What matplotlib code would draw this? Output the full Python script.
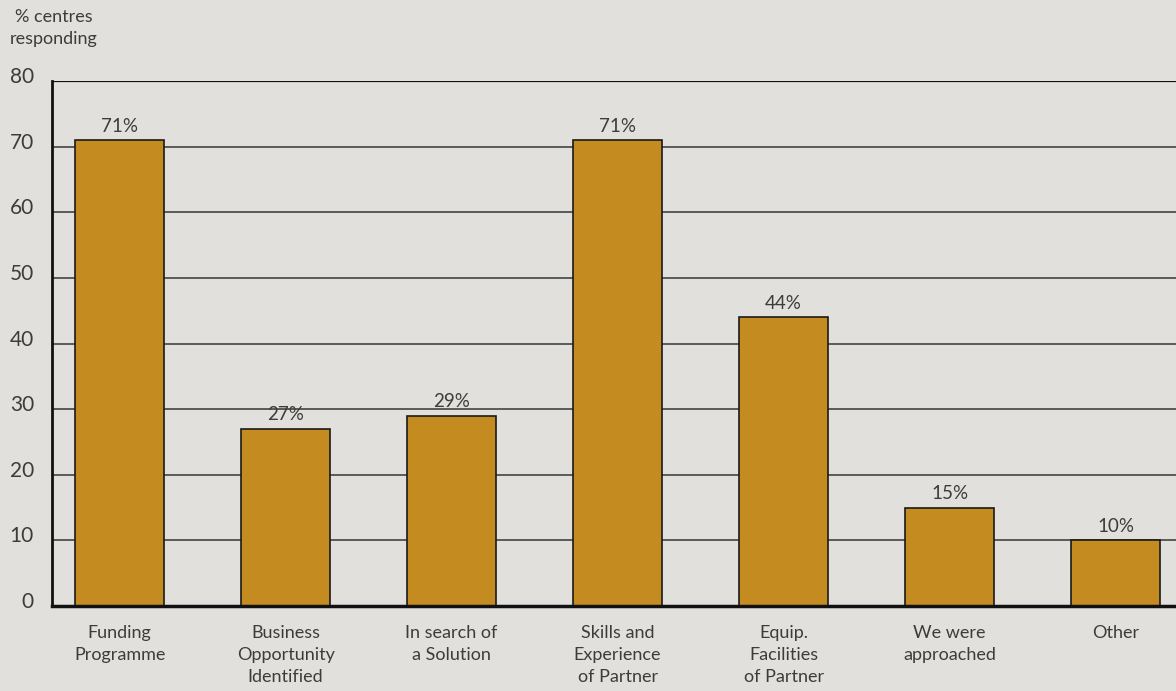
import matplotlib
matplotlib.use("Agg")
import matplotlib.pyplot as plt
import matplotlib.transforms as mtransforms
import numpy as np

categories = [
    "Funding\nProgramme",
    "Business\nOpportunity\nIdentified",
    "In search of\na Solution",
    "Skills and\nExperience\nof Partner",
    "Equip.\nFacilities\nof Partner",
    "We were\napproached",
    "Other",
]
percent = [71, 27, 29, 71, 44, 15, 10]
yticks = [0, 10, 20, 30, 40, 50, 60, 70, 80]

bg = "#e1e0dc"
bar_color = "#c48b20"
text_color = "#3c3c3c"

plt.rcParams["font.family"] = ["Lato", "DejaVu Sans"]

fig = plt.figure(figsize=(11.76, 6.91), dpi=100, facecolor=bg)
W, H = 1176, 691
ax = fig.add_axes([52 / W, 1 - 606 / H, 1 - 52 / W, (606 - 81) / H])
ax.set_facecolor(bg)

x = np.arange(len(categories))
ax.set_xlim(-0.407, 6.364)
ax.set_ylim(0, 80)

# horizontal rules behind the bars
for v in yticks[1:]:
    ax.axhline(v, color="#111111" if v == 80 else "#5a5a5a",
               lw=1.6 if v == 80 else 1.4, zorder=1)

ax.bar(x, percent, width=0.536, color=bar_color, edgecolor="#1a1a1a",
       linewidth=1.2, zorder=2)

for xi, p in zip(x, percent):
    ax.annotate(f"{p}%", (xi, p), xytext=(0, 4), textcoords="offset points",
                ha="center", va="bottom", fontsize=13.5, color=text_color)

for s in ["top", "right"]:
    ax.spines[s].set_visible(False)
ax.spines["left"].set_linewidth(2)
ax.spines["bottom"].set_linewidth(2.5)
ax.spines["left"].set_color("#111111")
ax.spines["bottom"].set_color("#111111")
ax.spines["left"].set_zorder(3)
ax.spines["bottom"].set_zorder(3)

ax.set_yticks(yticks)
ax.set_yticklabels([str(v) for v in yticks], fontsize=15, color=text_color)
ax.tick_params(axis="y", length=0, pad=13)
offset = mtransforms.ScaledTranslation(0, 6 / 100, fig.dpi_scale_trans)
for lab in ax.get_yticklabels():
    lab.set_transform(lab.get_transform() + offset)

ax.set_xticks(x)
ax.set_xticklabels(categories, fontsize=13, color=text_color,
                   linespacing=1.45, va="top")
ax.tick_params(axis="x", length=0, pad=14)

fig.text(54 / W, 1 - 9 / H, "% centres\nresponding", ha="center", va="top",
         fontsize=13, color=text_color, linespacing=1.45)

fig.savefig("out.png", dpi=100, facecolor=bg)
